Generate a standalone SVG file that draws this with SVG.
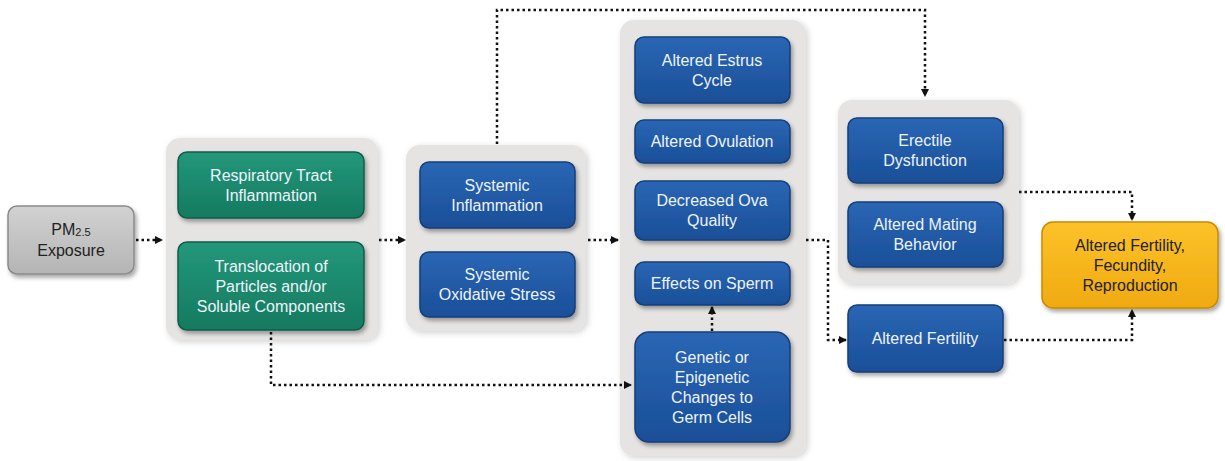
<svg xmlns="http://www.w3.org/2000/svg" width="1225" height="461" viewBox="0 0 1225 461">
<defs>
<linearGradient id="gBlue" x1="0" y1="0" x2="0" y2="1"><stop offset="0" stop-color="#2a66b4"/><stop offset="1" stop-color="#1a4f98"/></linearGradient>
<linearGradient id="gGreen" x1="0" y1="0" x2="0" y2="1"><stop offset="0" stop-color="#23977a"/><stop offset="1" stop-color="#157a60"/></linearGradient>
<linearGradient id="gGray" x1="0" y1="0" x2="0" y2="1"><stop offset="0" stop-color="#d2d2d2"/><stop offset="1" stop-color="#b4b4b4"/></linearGradient>
<linearGradient id="gYellow" x1="0" y1="0" x2="0" y2="1"><stop offset="0" stop-color="#fcc22a"/><stop offset="1" stop-color="#f0aa10"/></linearGradient>
<filter id="sh" x="-10%" y="-10%" width="125%" height="130%"><feDropShadow dx="2" dy="3" stdDeviation="2" flood-color="#000" flood-opacity="0.35"/></filter>
<filter id="shb" x="-10%" y="-10%" width="125%" height="130%"><feDropShadow dx="2" dy="2" stdDeviation="3" flood-color="#000" flood-opacity="0.18"/></filter>
<marker id="ah" markerWidth="8" markerHeight="8" refX="7" refY="4" orient="auto" markerUnits="userSpaceOnUse"><path d="M0,0 L8,4 L0,8 z" fill="#111"/></marker>
</defs>
<style>
.bg{fill:#e6e4e2;filter:url(#shb)}
.box{stroke-width:1.5;filter:url(#sh)}
.blue{fill:url(#gBlue);stroke:#163f7a}
.green{fill:url(#gGreen);stroke:#0f5e49}
.gray{fill:url(#gGray);stroke:#8a8a8a}
.yellow{fill:url(#gYellow);stroke:#c88a00}
text{font-family:"Liberation Sans",Arial,sans-serif;font-size:16px;text-anchor:middle}
.lt{fill:#eef3fa}
.dk{fill:#222}
.con{fill:none;stroke:#111;stroke-width:2.5;stroke-dasharray:2.5 3}
</style>
<rect x="0" y="0" width="1225" height="461" fill="#ffffff"/>
<g id="group-bg">
<rect class="bg" x="166" y="138" width="212" height="202" rx="14"/>
<rect class="bg" x="406" y="145" width="180" height="186" rx="14"/>
<rect class="bg" x="620" y="20" width="186" height="436" rx="14"/>
<rect class="bg" x="838" y="100" width="181" height="184" rx="14"/>
</g>
<g id="connectors">
<path class="con" d="M136,240 H162" marker-end="url(#ah)"/>
<path class="con" d="M379,240 H405" marker-end="url(#ah)"/>
<path class="con" d="M588,240 H618" marker-end="url(#ah)"/>
<path class="con" d="M497,144 V10 H925 V96" marker-end="url(#ah)"/>
<path class="con" d="M271,332 V385 H631" marker-end="url(#ah)"/>
<path class="con" d="M712,331 V307" marker-end="url(#ah)"/>
<path class="con" d="M806,240 H828 V340 H846" marker-end="url(#ah)"/>
<path class="con" d="M1019,192 H1132 V220" marker-end="url(#ah)"/>
<path class="con" d="M1004,340 H1132 V310" marker-end="url(#ah)"/>
</g>
<g id="pm25">
<rect class="box gray" x="8" y="206" width="126" height="68" rx="9"/>
<text class="dk" x="71" y="235">PM<tspan font-size="11" dy="1">2.5</tspan></text>
<text class="dk" x="71" y="256">Exposure</text>
</g>
<g id="respiratory">
<rect class="box green" x="178" y="152" width="186" height="66" rx="9"/>
<text class="lt" x="271" y="181">Respiratory Tract</text>
<text class="lt" x="271" y="201">Inflammation</text>
</g>
<g id="translocation">
<rect class="box green" x="178" y="242" width="186" height="88" rx="9"/>
<text class="lt" x="271" y="272">Translocation of</text>
<text class="lt" x="271" y="292">Particles and/or</text>
<text class="lt" x="271" y="312">Soluble Components</text>
</g>
<g id="sys-inflammation">
<rect class="box blue" x="420" y="162" width="155" height="66" rx="9"/>
<text class="lt" x="497" y="191">Systemic</text>
<text class="lt" x="497" y="211">Inflammation</text>
</g>
<g id="sys-oxidative">
<rect class="box blue" x="420" y="252" width="155" height="65" rx="9"/>
<text class="lt" x="497" y="280">Systemic</text>
<text class="lt" x="497" y="300">Oxidative Stress</text>
</g>
<g id="estrus">
<rect class="box blue" x="635" y="37" width="155" height="66" rx="9"/>
<text class="lt" x="712" y="66">Altered Estrus</text>
<text class="lt" x="712" y="86">Cycle</text>
</g>
<g id="ovulation">
<rect class="box blue" x="635" y="120" width="155" height="43" rx="9"/>
<text class="lt" x="712" y="147">Altered Ovulation</text>
</g>
<g id="ova">
<rect class="box blue" x="635" y="181" width="155" height="59" rx="9"/>
<text class="lt" x="712" y="206">Decreased Ova</text>
<text class="lt" x="712" y="226">Quality</text>
</g>
<g id="sperm">
<rect class="box blue" x="635" y="262" width="155" height="43" rx="9"/>
<text class="lt" x="712" y="289">Effects on Sperm</text>
</g>
<g id="genetic">
<rect class="box blue" x="635" y="332" width="155" height="110" rx="14"/>
<text class="lt" x="712" y="363">Genetic or</text>
<text class="lt" x="712" y="383">Epigenetic</text>
<text class="lt" x="712" y="403">Changes to</text>
<text class="lt" x="712" y="423">Germ Cells</text>
</g>
<g id="erectile">
<rect class="box blue" x="848" y="118" width="155" height="65" rx="9"/>
<text class="lt" x="925" y="146">Erectile</text>
<text class="lt" x="925" y="166">Dysfunction</text>
</g>
<g id="mating">
<rect class="box blue" x="848" y="202" width="155" height="65" rx="9"/>
<text class="lt" x="925" y="230">Altered Mating</text>
<text class="lt" x="925" y="250">Behavior</text>
</g>
<g id="altered-fertility">
<rect class="box blue" x="848" y="305" width="155" height="67" rx="9"/>
<text class="lt" x="925" y="344">Altered Fertility</text>
</g>
<g id="outcome">
<rect class="box yellow" x="1042" y="222" width="176" height="86" rx="11"/>
<text class="dk" x="1130" y="251">Altered Fertility,</text>
<text class="dk" x="1130" y="271">Fecundity,</text>
<text class="dk" x="1130" y="291">Reproduction</text>
</g>
</svg>
